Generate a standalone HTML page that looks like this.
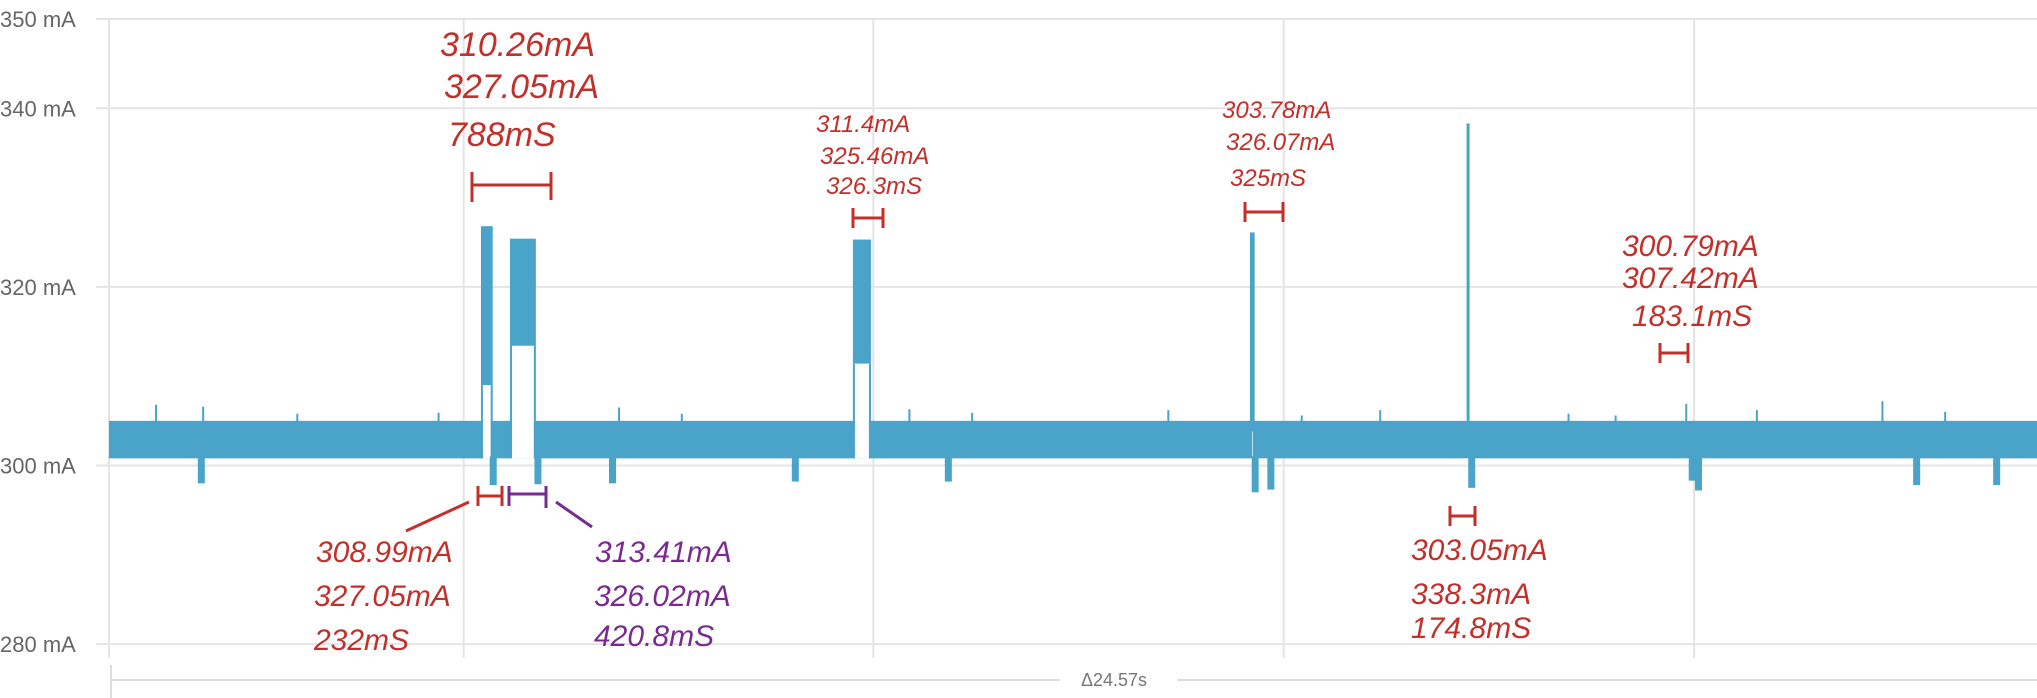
<!DOCTYPE html>
<html><head><meta charset="utf-8"><style>
html,body{margin:0;padding:0;background:#fff;}
svg{display:block;}
.hand{font-family:"Liberation Sans",sans-serif;font-style:italic;}
</style></head><body>
<svg id="chart" width="2037" height="698" viewBox="0 0 2037 698" xmlns="http://www.w3.org/2000/svg">
<g id="grid"></g>
<g id="yaxis"></g>
<g id="trace"></g>
<g id="xaxis">
  <line x1="111" y1="665" x2="111" y2="698" stroke="#ddd" stroke-width="2"/>
  <line x1="112" y1="680" x2="1060" y2="680" stroke="#ddd" stroke-width="2"/>
  <line x1="1177" y1="680" x2="2037" y2="680" stroke="#ddd" stroke-width="2"/>
  <text x="1114" y="686" text-anchor="middle" font-family="Liberation Sans, sans-serif" font-size="18" fill="#777">Δ24.57s</text>
</g>
<g id="notes" class="hand" font-size="30">
  <g fill="#c2302b">
    <text x="440" y="56" font-size="34">310.26mA</text>
    <text x="444" y="98" font-size="34">327.05mA</text>
    <text x="448" y="146" font-size="34">788mS</text>
  </g>
  <g fill="#c2302b">
    <text x="316" y="562">308.99mA</text>
    <text x="314" y="606">327.05mA</text>
    <text x="314" y="650">232mS</text>
  </g>
  <g fill="#7b2a8f">
    <text x="595" y="562">313.41mA</text>
    <text x="594" y="606">326.02mA</text>
    <text x="594" y="646">420.8mS</text>
  </g>
  <g fill="#c2302b" font-size="24">
    <text x="816" y="132">311.4mA</text>
    <text x="820" y="164">325.46mA</text>
    <text x="826" y="194">326.3mS</text>
  </g>
  <g fill="#c2302b" font-size="24">
    <text x="1222" y="118">303.78mA</text>
    <text x="1226" y="150">326.07mA</text>
    <text x="1230" y="186">325mS</text>
  </g>
  <g fill="#c2302b">
    <text x="1411" y="560">303.05mA</text>
    <text x="1411" y="604">338.3mA</text>
    <text x="1411" y="638">174.8mS</text>
  </g>
  <g fill="#c2302b">
    <text x="1622" y="256">300.79mA</text>
    <text x="1622" y="288">307.42mA</text>
    <text x="1632" y="326">183.1mS</text>
  </g>
  <g stroke="#c2302b" stroke-width="3" fill="none">
    <path d="M472 172V202M472 185H551M551 172V200"/>
    <path d="M478 486V506M478 496H502M502 486V506"/>
    <path d="M469 502L406 531"/>
    <path d="M853 208V228M853 218H883M883 208V228"/>
    <path d="M1245 202V222M1245 212H1283M1283 202V222"/>
    <path d="M1450 506V526M1450 516H1475M1475 506V526"/>
    <path d="M1660 343V363M1660 353H1688M1688 343V363"/>
  </g>
  <g stroke="#7b2a8f" stroke-width="3" fill="none">
    <path d="M509 486V506M509 494H546M546 486V508"/>
    <path d="M556 502L592 527"/>
  </g>
</g>
</svg>
<script>
// ---- data ----
const yTicks = [350, 340, 320, 300, 280];
const yTickLabels = ["350 mA", "340 mA", "320 mA", "300 mA", "280 mA"];
const xGridTimes = [4.52, 9.74, 14.97, 20.2];
const baselineLow = 300.8;
const baselineHigh = 305.0;
// bursts: start s, end s, low mA, high mA
const burstStart = [4.74, 5.11, 9.48, 14.54];
const burstEnd   = [4.89, 5.44, 9.71, 14.60];
const burstLow   = [309.0, 313.4, 311.4, 303.8];
const burstHigh  = [326.8, 325.4, 325.3, 326.1];
// single spike
const spikeTime = [17.32];
const spikeHigh = [338.3];
// dips below baseline
const dipTime = [1.17, 4.89, 5.46, 6.41, 8.74, 10.69, 14.60, 14.80, 17.36, 20.17, 20.25, 23.03, 24.05];
const dipLow  = [298.0, 297.8, 297.9, 298.0, 298.2, 298.2, 297.0, 297.3, 297.5, 298.3, 297.2, 297.8, 297.8];
// up spikes in baseline
const upTime = [0.6, 1.2, 2.4, 4.2, 6.5, 7.3, 10.2, 11.0, 13.5, 15.2, 16.2, 18.6, 19.2, 20.1, 21.0, 22.6, 23.4];
const upHigh = [306.8, 306.6, 305.8, 305.9, 306.5, 305.8, 306.3, 305.9, 306.2, 305.6, 306.2, 305.8, 305.6, 306.9, 306.2, 307.2, 306.0];

// ---- scales ----
const X0 = 109, X1 = 2037, T = 24.57;
const xs = t => X0 + (t / T) * (X1 - X0);
const ys = v => 19 + (350 - v) * 8.93;
const NS = "http://www.w3.org/2000/svg";
function mk(tag, attrs, parent) {
  const e = document.createElementNS(NS, tag);
  for (const k in attrs) e.setAttribute(k, attrs[k]);
  parent.appendChild(e);
  return e;
}
const grid = document.getElementById('grid');
const yaxis = document.getElementById('yaxis');
const trace = document.getElementById('trace');
const C = "#4aa3c8";

yTicks.forEach((v, i) => {
  const l = mk('line', {x1: 96, x2: 2037, y1: ys(v), y2: ys(v), stroke: '#e4e4e4', 'stroke-width': 2}, grid);
  
  
  const t = mk('text', {x: 0, y: ys(v) + 8, 'font-family': 'Liberation Sans, sans-serif', 'font-size': 22, fill: '#666'}, yaxis);
  t.textContent = yTickLabels[i];
  
  
});
const vl = mk('line', {x1: X0, x2: X0, y1: 19, y2: 658, stroke: '#e4e4e4', 'stroke-width': 2}, grid);


xGridTimes.forEach(t => {
  const l = mk('line', {x1: xs(t), x2: xs(t), y1: 19, y2: 658, stroke: '#e4e4e4', 'stroke-width': 2}, grid);
  
  
});

// baseline band
const band = mk('rect', {x: X0, y: ys(baselineHigh), width: X1 - X0, height: ys(baselineLow) - ys(baselineHigh), fill: C}, trace);


// bursts
burstStart.forEach((s, i) => {
  const x = xs(s), w = Math.max(3, xs(burstEnd[i]) - x);
  const r = mk('rect', {x: x, y: ys(burstHigh[i]), width: w, height: ys(burstLow[i]) - ys(burstHigh[i]), fill: C}, trace);
  
  
  const g = mk('rect', {x: x + 2, y: ys(burstLow[i]), width: Math.max(1, w - 4), height: ys(baselineLow) - ys(burstLow[i]), fill: '#fff'}, trace);
  
  
  const e1 = mk('line', {x1: x + 1, x2: x + 1, y1: ys(burstLow[i]), y2: ys(baselineLow), stroke: C, 'stroke-width': 2}, trace);
  
  
  const e2 = mk('line', {x1: x + w - 1, x2: x + w - 1, y1: ys(burstLow[i]), y2: ys(baselineLow), stroke: C, 'stroke-width': 2}, trace);
  
  
});
spikeTime.forEach((t, i) => {
  const l = mk('line', {x1: xs(t), x2: xs(t), y1: ys(spikeHigh[i]), y2: ys(baselineHigh), stroke: C, 'stroke-width': 3}, trace);
  
  
});
dipTime.forEach((t, i) => {
  const r = mk('rect', {x: xs(t) - 3, y: ys(baselineLow) - 2, width: 7, height: ys(dipLow[i]) - ys(baselineLow) + 2, fill: C}, trace);
  
  
});
upTime.forEach((t, i) => {
  const l = mk('line', {x1: xs(t), x2: xs(t), y1: ys(upHigh[i]), y2: ys(baselineHigh) + 2, stroke: C, 'stroke-width': 2}, trace);
  
  
});
</script>
</body></html>
